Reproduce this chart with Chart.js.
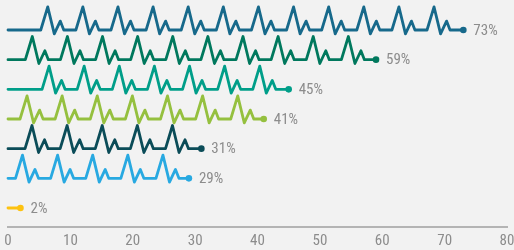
<!DOCTYPE html>
<html>
<head>
<meta charset="utf-8">
<script src="https://cdn.jsdelivr.net/npm/chart.js@4.4.1/dist/chart.umd.min.js"></script>
<style>
  html, body { margin: 0; padding: 0; background: #f2f2f2; }
  #wrap { width: 514px; height: 250px; position: relative; }
</style>
</head>
<body>
<div id="wrap"><canvas id="myChart"></canvas></div>
<script>
// values shown at the end of each line (top to bottom)
const values = [73, 59, 45, 41, 31, 29, 2];
const colors = ["#17698b", "#00785d", "#009e89", "#95c03f", "#0b4c58", "#28a9e1", "#fdc210"];
// where the first pulse starts on each line (x units), null = no pulse
const pulseStart = [5.25, 2.78, 5.46, 1.93, 2.73, 1.2, null];
const xTicks = [0, 10, 20, 30, 40, 50, 60, 70, 80];

// heartbeat glyph, one beat
const beatX = [0, 1.12, 2.17, 3.13, 3.69];
const beatY = [0, 0.78, -0.13, 0.3, 0];
const beatGap = 5.63;

const FONT = "'Liberation Sans Narrow', 'Roboto Condensed', 'DejaVu Sans Condensed', sans-serif";

function rowPoints(i) {
  const base = values.length - i;
  const end = values[i];
  const pts = [{ x: 0, y: base }];
  if (pulseStart[i] !== null) {
    for (let s = pulseStart[i]; s + beatX[beatX.length - 1] < end; s += beatGap) {
      beatX.forEach((bx, k) => pts.push({ x: s + bx, y: base + beatY[k] }));
    }
  }
  pts.push({ x: end, y: base });
  return pts;
}

// percentage text after the dot of each line
const endLabels = {
  id: "endLabels",
  afterDatasetsDraw(chart) {
    const c = chart.ctx;
    c.save();
    c.font = "15px " + FONT;
    c.fillStyle = "#8c8c8c";
    c.textBaseline = "middle";
    chart.data.datasets.forEach((ds, i) => {
      const meta = chart.getDatasetMeta(i);
      const pt = meta.data[meta.data.length - 1];
      c.fillText(values[i] + "%", pt.x + 10, pt.y + 1);
    });
    c.restore();
  },
};

const ctx = document.getElementById("myChart").getContext("2d");

new Chart(ctx, {
  type: "line",
  data: {
    datasets: values.map((v, i) => ({
      label: v + "%",
      data: rowPoints(i),
      borderColor: colors[i],
      backgroundColor: colors[i],
      borderWidth: 2.8,
      borderCapStyle: "round",
      borderJoinStyle: "round",
      tension: 0,
      pointRadius: (c) => (c.dataIndex === c.dataset.data.length - 1 ? 3.3 : 0),
      pointBorderWidth: 0,
      clip: false,
    })),
  },
  plugins: [endLabels],
  options: {
    responsive: true,
    maintainAspectRatio: false,
    animation: false,
    layout: { padding: { left: 8, right: 7, top: 0, bottom: 0 } },
    plugins: { legend: { display: false }, tooltip: { enabled: false } },
    scales: {
      x: {
        type: "linear",
        min: 0,
        max: 80,
        afterBuildTicks: (s) => { s.ticks = xTicks.map((v) => ({ value: v })); },
        afterFit: (s) => { s.height = 23; s.paddingLeft = 0; s.paddingRight = 0; },
        grid: { display: false, drawTicks: false },
        border: { display: true, color: "#b4b4b4", width: 2 },
        ticks: { color: "#8c8c8c", padding: 5, font: { family: FONT, size: 15 } },
      },
      y: {
        display: false,
        min: 0.36,
        max: 7.876,
      },
    },
  },
});
</script>
</body>
</html>
